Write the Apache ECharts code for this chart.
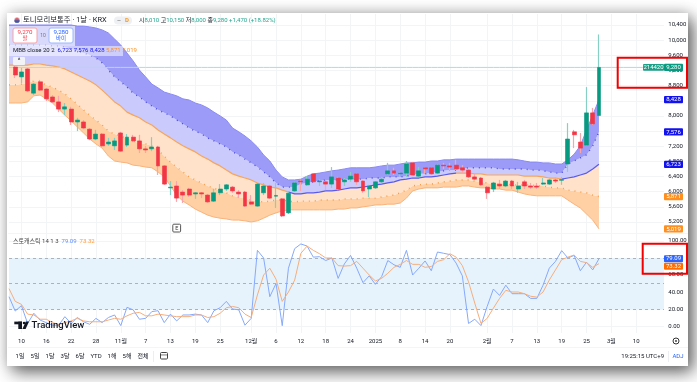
<!DOCTYPE html>
<html>
<head>
<meta charset="utf-8">
<title>토니모리보통주</title>
<script src="https://cdn.jsdelivr.net/npm/echarts@6/dist/echarts.min.js"></script>
<style>
html, body { margin: 0; padding: 0; background: #fff; overflow: hidden; }
#card { position: absolute; left: 7px; top: 13px; width: 681px; height: 353px; background: #fff; box-shadow: 5px 6px 16px rgba(0,0,0,.62), 0 -2px 12px rgba(0,0,0,.12); }
#main { position: absolute; left: 0; top: 0; width: 697px; height: 382px; filter: blur(0.4px); }
</style>
</head>
<body>
<div id="card"></div>
<div id="main"></div>
<script>
// time axis: bar index -> label
const barCount = 107
const xTickIndex = [2, 6, 10, 14, 18, 22, 26, 30, 34, 39, 43, 47, 51, 55, 59, 63, 67, 71, 77, 81, 85, 89, 93, 97, 101]
const xTickLabels = ['10', '16', '22', '28', '11월', '7', '13', '19', '25', '12월', '6', '12', '18', '24', '2025', '8', '14', '20', '2월', '7', '13', '19', '25', '3월', '10']
const priceTicks = [5200, 5600, 6000, 6400, 6800, 7200, 7600, 8000, 8400, 8800, 9200, 9600, 10000, 10400]
const stochTicks = [0, 20, 40, 60, 80, 100]

// candles start at bar index 1
const opens = [9290, 9030, 9240, 8600, 8900, 8710, 8500, 8370, 8180, 8180, 7840, 7840, 7650, 7390, 7520, 7260, 7210, 7550, 7230, 7440, 7340, 7130, 7130, 7180, 6680, 6100, 6150, 5990, 6070, 5940, 5970, 5910, 5750, 5970, 6070, 6120, 5990, 5990, 5730, 5620, 5970, 6150, 5880, 5810, 5440, 6020, 6280, 6180, 6470, 6260, 6260, 6200, 6360, 6260, 6330, 6470, 6280, 6070, 6100, 6260, 6470, 6550, 6470, 6490, 6760, 6410, 6630, 6630, 6490, 6700, 6680, 6700, 6630, 6570, 6390, 6360, 6120, 6070, 6200, 6150, 6280, 6070, 6260, 6150, 6150, 6200, 6200, 6310, 6300, 6730, 7580, 7310, 7230, 8080, 8010]
const closes = [9080, 9160, 8660, 8840, 8680, 8450, 8370, 8180, 8240, 7840, 7890, 7680, 7390, 7520, 7210, 7310, 7340, 7070, 7440, 7340, 7130, 7100, 7180, 6680, 6200, 6120, 5830, 5910, 5910, 5970, 5940, 5730, 5970, 6070, 6180, 6020, 5940, 5620, 5670, 6200, 6150, 5830, 5900, 5360, 5960, 6230, 6260, 6330, 6260, 6280, 6200, 6390, 6070, 6310, 6410, 6260, 6020, 6150, 6260, 6330, 6550, 6490, 6490, 6730, 6440, 6550, 6600, 6470, 6700, 6680, 6650, 6600, 6570, 6390, 6330, 6180, 5970, 6230, 6150, 6280, 6150, 6150, 6150, 6120, 6120, 6230, 6310, 6280, 6320, 7390, 7500, 7150, 8080, 7790, 9280]
const lows = [9000, 8870, 8630, 8550, 8660, 8390, 8340, 8100, 8020, 7760, 7600, 7650, 7360, 7360, 7180, 7210, 7100, 7050, 7180, 7310, 7020, 7020, 7070, 6440, 6180, 5910, 5730, 5700, 5860, 5810, 5830, 5700, 5730, 5910, 6020, 5970, 5830, 5600, 5650, 5600, 5910, 5810, 5570, 5330, 5410, 5990, 6020, 6150, 6230, 6150, 6040, 6100, 6040, 6150, 6260, 6180, 5970, 5860, 6070, 6230, 6440, 6440, 6390, 6390, 6410, 6390, 6490, 6440, 6470, 6600, 6550, 6570, 6490, 6360, 6310, 6150, 5810, 5990, 6070, 6120, 6070, 5970, 6070, 6070, 6070, 6180, 6180, 6230, 6180, 6520, 7150, 7020, 7210, 7760, 8000]
const highs = [9320, 9270, 9270, 8870, 8950, 8740, 8550, 8530, 8340, 8240, 7950, 7890, 7680, 7630, 7550, 7420, 7420, 7580, 7520, 7500, 7500, 7210, 7440, 7210, 6700, 6280, 6280, 6040, 6100, 5990, 5990, 5940, 6070, 6200, 6200, 6150, 6040, 6020, 5910, 6230, 6230, 6180, 6230, 5830, 5990, 6260, 6310, 6410, 6490, 6330, 6310, 6650, 6390, 6360, 6520, 6490, 6310, 6180, 6280, 6390, 6760, 6630, 6520, 6810, 6780, 6650, 6650, 6650, 6730, 6760, 6760, 6840, 6700, 6600, 6490, 6390, 6150, 6260, 6310, 6310, 6310, 6260, 6310, 6230, 6230, 6360, 6330, 6390, 6390, 7810, 7630, 7550, 8760, 8210, 10150]

// bollinger bands start at bar index 0
const upper2 = [10400, 10400, 10400, 10400, 10400, 10400, 10400, 10400, 10400, 10400, 10400, 10370, 10370, 10350, 10320, 10270, 10190, 10030, 9870, 9660, 9450, 9210, 9030, 8840, 8740, 8630, 8580, 8530, 8450, 8420, 8340, 8290, 8210, 8100, 8000, 7890, 7680, 7580, 7470, 7340, 7180, 6970, 6810, 6570, 6390, 6310, 6310, 6330, 6410, 6470, 6490, 6520, 6550, 6570, 6600, 6630, 6630, 6630, 6630, 6650, 6680, 6700, 6700, 6730, 6760, 6760, 6780, 6780, 6810, 6810, 6840, 6840, 6860, 6860, 6860, 6860, 6860, 6860, 6860, 6860, 6860, 6860, 6840, 6810, 6780, 6780, 6760, 6760, 6730, 6730, 6840, 6990, 7210, 7630, 8020, 8428]
const upper1 = [9870, 9870, 9870, 9870, 9870, 9870, 9870, 9850, 9850, 9820, 9770, 9710, 9660, 9610, 9530, 9400, 9210, 9030, 8900, 8760, 8600, 8500, 8370, 8260, 8160, 8080, 8000, 7890, 7790, 7680, 7600, 7520, 7420, 7340, 7260, 7180, 7050, 6970, 6860, 6760, 6650, 6520, 6390, 6230, 6120, 6120, 6120, 6200, 6230, 6260, 6280, 6310, 6310, 6310, 6330, 6330, 6330, 6330, 6360, 6360, 6360, 6390, 6390, 6390, 6410, 6440, 6470, 6470, 6490, 6520, 6550, 6570, 6570, 6600, 6630, 6630, 6630, 6630, 6630, 6600, 6600, 6600, 6600, 6600, 6570, 6570, 6550, 6520, 6490, 6490, 6730, 6810, 6890, 6970, 7210, 7576]
const basis = [9340, 9340, 9340, 9340, 9370, 9370, 9340, 9320, 9290, 9240, 9160, 9080, 9000, 8920, 8820, 8680, 8530, 8370, 8260, 8100, 8020, 7950, 7840, 7760, 7630, 7520, 7420, 7310, 7210, 7130, 7050, 6940, 6860, 6760, 6680, 6570, 6470, 6410, 6360, 6310, 6230, 6180, 6120, 6100, 6040, 5990, 5940, 5940, 5970, 5970, 5990, 6020, 6020, 6040, 6070, 6100, 6100, 6120, 6150, 6180, 6200, 6230, 6260, 6310, 6330, 6360, 6360, 6390, 6390, 6410, 6440, 6470, 6490, 6490, 6490, 6470, 6470, 6440, 6440, 6440, 6440, 6440, 6440, 6410, 6410, 6410, 6390, 6360, 6360, 6330, 6360, 6390, 6440, 6490, 6600, 6723]
const lower1 = [8820, 8820, 8840, 8870, 8920, 8900, 8820, 8760, 8680, 8580, 8450, 8310, 8160, 8020, 7890, 7760, 7600, 7520, 7470, 7390, 7340, 7280, 7260, 7210, 7100, 6940, 6780, 6650, 6520, 6390, 6310, 6230, 6150, 6100, 6020, 5970, 5890, 5860, 5810, 5780, 5750, 5730, 5750, 5780, 5780, 5750, 5730, 5750, 5750, 5750, 5780, 5780, 5780, 5780, 5810, 5810, 5810, 5830, 5830, 5830, 5860, 5890, 5910, 5970, 6040, 6150, 6180, 6200, 6200, 6230, 6260, 6280, 6310, 6310, 6310, 6280, 6260, 6230, 6200, 6200, 6200, 6180, 6180, 6180, 6180, 6150, 6150, 6120, 6100, 6100, 6040, 6020, 5990, 5970, 5910, 5871]
const lower2 = [8340, 8340, 8340, 8370, 8530, 8550, 8450, 8340, 8180, 8020, 7870, 7710, 7550, 7390, 7260, 7150, 6940, 6810, 6780, 6760, 6700, 6680, 6650, 6630, 6520, 6390, 6150, 5910, 5750, 5650, 5540, 5460, 5380, 5330, 5300, 5280, 5250, 5250, 5230, 5200, 5230, 5300, 5380, 5440, 5490, 5520, 5520, 5520, 5520, 5520, 5520, 5520, 5520, 5540, 5540, 5570, 5570, 5600, 5620, 5650, 5650, 5670, 5670, 5700, 5830, 6020, 6070, 6100, 6100, 6100, 6120, 6120, 6120, 6150, 6150, 6120, 6100, 6100, 6070, 6070, 6040, 6040, 5990, 5940, 5910, 5890, 5890, 5890, 5890, 5890, 5780, 5670, 5570, 5410, 5250, 5019]
// stretches where the basis line turns blue (rising), orange elsewhere
const basisRising = [[45, 72], [89, 95]]

// stochastic, bar index 0 onward
const stochK = [34.5, 17.6, 24, 3, 15, 7, 4, 1, 1, 11, 3, 10, 5, 2, 9, 4, 10, 13, 0.5, 22, 19, 8, 9, 17, 18, 4, 14, 6, 13, 13, 14, 13, 4, 18, 21.5, 29, 20, 19, 1, 9, 89, 80, 34.5, 50, 0.4, 68, 91, 96.5, 94, 81, 81.5, 77, 80, 56, 73, 83, 68, 51, 59, 49, 58, 77, 72, 69, 89, 60, 68, 76.5, 65, 87, 85.5, 84, 74, 59, 3, 8, 0.5, 23, 43.5, 36, 48, 38, 38, 38, 32.5, 32.5, 48, 68, 76, 88.6, 80, 83, 65, 75, 66, 79.09]
const stochD = [44, 29, 25.5, 14, 13, 8, 8, 4, 2, 4, 6, 9, 6, 5, 5, 5, 7, 9, 8, 12, 15, 16, 12, 12, 14, 13, 12, 11, 11, 11, 13, 13, 10, 11, 15, 21.5, 23, 21.5, 14, 10, 36.5, 60, 68, 55, 29, 40, 54, 85.5, 94, 89, 85, 80, 80, 71, 70.5, 71, 76, 68, 60, 53, 56, 62, 69, 72.5, 77, 72.5, 72.5, 69, 70, 76, 78, 85, 81, 71, 52, 27, 3, 9, 21, 32.5, 42, 40, 40, 38, 35, 34, 40, 54, 66, 78, 81, 83.5, 76, 74.5, 69, 73.32]

const upColor = '#089981'
const downColor = '#f23645'
const textColor = '#131722'
const blue = '#1212ee'
const orange = '#ff8f1f'
const fontFamily = 'Roboto, "Noto Sans CJK KR", sans-serif'
const plotLeft = 9
const barStep = 6.21
const axisFont = 6

const categories = []
for (let i = 0; i < barCount; i++) {
  const t = xTickIndex.indexOf(i)
  categories.push(t >= 0 ? xTickLabels[t] : '')
}
const isTick = index => xTickIndex.indexOf(index) >= 0

// first slot of the axis has bands only, no candle
const emptyBar = ['-', '-', '-', '-']
const wickData = [emptyBar].concat(opens.map((o, i) => [o, closes[i], lows[i], highs[i]]))
const bodyData = [emptyBar].concat(opens.map((o, i) => [o, closes[i], Math.min(o, closes[i]), Math.max(o, closes[i])]))

function inRising(i) {
  return basisRising.some(r => i >= r[0] && i <= r[1])
}
const basisBlue = basis.map((v, i) => (inRising(i) ? v : null))
const basisOrange = basis.map((v, i) => (inRising(i) && inRising(i - 1) && inRising(i + 1) ? null : v))
// orange stops at the junction points only
basisRising.forEach(r => {
  basisOrange[r[0]] = basis[r[0]]
  basisOrange[r[1]] = r[1] === 95 ? null : basis[r[1]]
})

function diff(a, b) {
  return a.map((v, i) => v - b[i])
}
function band(name, data, color) {
  return {
    name: name, type: 'line', stack: 'mbb', data: data, symbol: 'none', silent: true, z: 1,
    lineStyle: { width: 0 }, areaStyle: color ? { color: color, opacity: 1 } : { opacity: 0 }
  }
}
function bandLine(name, data, color, width, type) {
  return {
    name: name, type: 'line', data: data, symbol: 'none', silent: true, z: 2,
    lineStyle: { color: color, width: width, type: type || 'solid' }
  }
}
function txt(x, y, text, color, size, extra, z) {
  return {
    type: 'text', z: z || 60, x: x, y: y, silent: true,
    style: Object.assign({ text: text, fill: color || textColor, fontSize: size || axisFont, fontFamily: fontFamily, textVerticalAlign: 'middle' }, extra || {})
  }
}
function box(x, y, w, h, fill, stroke, r, z) {
  return {
    type: 'rect', z: z || 55, silent: true, shape: { x: x, y: y, width: w, height: h, r: r || 0 },
    style: { fill: fill || 'transparent', stroke: stroke || null, lineWidth: 1 }
  }
}
function tag(yc, w, fill, text) {
  return [box(664, yc - 3.6, w, 7.2, fill, null, 1, 70), txt(673.5, yc + 0.2, text, '#fff', axisFont, { textAlign: 'center' }, 71)]
}
function redBox(x, y, w, h) {
  return { type: 'rect', z: 80, silent: true, shape: { x: x, y: y, width: w, height: h }, style: { fill: 'transparent', stroke: '#f00000', lineWidth: 2 } }
}

const plotWidth = (barCount - 1) * barStep
const option = {
  animation: false,
  backgroundColor: 'transparent',
  grid: [
    { left: plotLeft, width: plotWidth, top: 14, height: 219 },
    { left: plotLeft, width: plotWidth, top: 234, height: 99 }
  ],
  xAxis: [0, 1].map(g => ({
    type: 'category', gridIndex: g, data: categories, boundaryGap: false,
    axisLine: { show: false },
    axisTick: { show: false },
    splitLine: { show: true, interval: isTick, lineStyle: { color: '#f3f4f6', width: 1 } },
    axisLabel: {
      show: g === 1, interval: isTick, margin: 5, hideOverlap: false,
      color: textColor, fontSize: axisFont, fontFamily: fontFamily
    }
  })),
  yAxis: [
    {
      type: 'value', gridIndex: 0, position: 'right', min: 4909, max: 10690, scale: true,
      axisLine: { show: false },
      axisTick: { show: false, customValues: priceTicks },
      splitLine: { show: true, lineStyle: { color: '#f3f4f6', width: 1 } },
      axisLabel: {
        customValues: priceTicks, margin: 1, color: textColor, fontSize: axisFont, fontFamily: fontFamily,
        formatter: v => v.toLocaleString('en-US')
      }
    },
    {
      type: 'value', gridIndex: 1, position: 'right', min: -8.2, max: 108.2, scale: true,
      axisLine: { show: false },
      axisTick: { show: false, customValues: stochTicks },
      splitLine: { show: true, lineStyle: { color: '#f3f4f6', width: 1 } },
      axisLabel: {
        customValues: stochTicks, margin: 1, color: textColor, fontSize: axisFont, fontFamily: fontFamily,
        formatter: v => v.toFixed(2)
      }
    }
  ],
  series: [
    band('base', lower2, null),
    band('lowerOuter', diff(lower1, lower2), '#fed0a4'),
    band('lowerInner', diff(basis, lower1), '#ffe2c9'),
    band('upperInner', diff(upper1, basis), '#cacafd'),
    band('upperOuter', diff(upper2, upper1), '#9c9cf8'),
    bandLine('upper2', upper2, '#8a8af2', 1),
    bandLine('upper1', upper1, '#4a4ae6', 1.4, [1, 5]),
    bandLine('basisOrange', basisOrange, '#f5a55e', 1.2),
    bandLine('basisBlue', basisBlue, '#5a5ae8', 1.2),
    bandLine('lower1', lower1, '#f79a4a', 1.4, [1, 5]),
    bandLine('lower2', lower2, '#f9b27a', 1),
    {
      name: 'wick', type: 'candlestick', data: wickData, barWidth: 1, z: 3, silent: true,
      itemStyle: { color: '#86cfc2', color0: '#f8a5ac', borderColor: '#86cfc2', borderColor0: '#f8a5ac', borderWidth: 1.2 }
    },
    {
      name: 'body', type: 'candlestick', data: bodyData, barWidth: 4.4, z: 4, silent: true,
      itemStyle: { color: upColor, color0: downColor, borderColor: upColor, borderColor0: downColor, borderWidth: 0.6 }
    },
    {
      // last price line
      name: 'lastPrice', type: 'line', data: categories.map(() => closes[closes.length - 1]), symbol: 'none', silent: true, z: 2,
      lineStyle: { color: '#a5e2d6', width: 1 }
    },
    {
      name: '%K', type: 'line', xAxisIndex: 1, yAxisIndex: 1, data: stochK, symbol: 'none', silent: true, z: 3,
      lineStyle: { color: '#86a9fb', width: 1 },
      markArea: {
        silent: true, itemStyle: { color: '#e6f3fd' }, z: 0,
        data: [[{ yAxis: 80 }, { yAxis: 20 }]]
      },
      markLine: {
        silent: true, symbol: 'none', label: { show: false }, z: 1,
        lineStyle: { color: '#adb2b9', type: [3, 3], width: 1 },
        data: [{ yAxis: 80 }, { yAxis: 50 }, { yAxis: 20 }]
      }
    },
    {
      name: '%D', type: 'line', xAxisIndex: 1, yAxisIndex: 1, data: stochD, symbol: 'none', silent: true, z: 4,
      lineStyle: { color: '#f6ae7c', width: 1 }
    }
  ]
}

const chart = echarts.init(document.getElementById('main'), null, { renderer: 'canvas' })
chart.setOption(option)

const py = v => chart.convertToPixel({ yAxisIndex: 0 }, v)
const sy = v => chart.convertToPixel({ yAxisIndex: 1 }, v)
const lastK = stochK[stochK.length - 1]
const lastD = stochD[stochD.length - 1]
const lastClose = closes[closes.length - 1]

const elements = [
  // the plot stops where the price scale begins
  box(664, 14, 4, 320, '#fff', null, 0, 50),
  // separators
  box(8, 233, 680, 0.6, '#e9ebef'),
  box(8, 347, 680, 0.6, '#e9ebef'),
  // translucent legend backdrop over the bands
  box(9, 26, 66, 20, 'rgba(255,255,255,.62)', null, 0, 40),
  box(9, 46, 114, 10, 'rgba(255,255,255,.5)', null, 0, 40),
  // header
  { type: 'circle', z: 60, silent: true, shape: { cx: 17, cy: 20.2, r: 2.6 }, style: { fill: '#e8505b', stroke: '#cfd3da', lineWidth: 0.6 } },
  { type: 'sector', z: 61, silent: true, shape: { cx: 17, cy: 20.2, r: 2.6, startAngle: 0, endAngle: Math.PI }, style: { fill: '#2f5fb0' } },
  txt(23, 20.3, '토니모리보통주 · 1날 · KRX', textColor, 7.4),
  box(114, 16.5, 18, 8, '#eef0f4', null, 4),
  txt(117, 20.5, '—', '#555', 5),
  txt(125, 20.5, 'D', '#f59a23', 6, { fontWeight: 'bold' }),
  txt(139, 20.5, '', textColor, 6, {
    text: '{l|시}{v|8,010} {l|고}{v|10,150} {l|저}{v|8,000} {l|종}{v|9,280} {v|+1,470 (+18.82%)}',
    rich: {
      l: { fill: textColor, fontSize: 6, fontFamily: fontFamily },
      v: { fill: '#22a68f', fontSize: 6, fontFamily: fontFamily }
    }
  }),
  // bid / ask boxes
  box(13, 28, 24, 15, '#fff', '#f4a4ac', 2),
  txt(25, 32.5, '9,270', downColor, 6.2, { textAlign: 'center' }),
  txt(25, 39, '팔', downColor, 5.5, { textAlign: 'center' }),
  txt(43, 35.5, '10', '#777', 5, { textAlign: 'center' }),
  box(49, 28, 24, 15, '#fff', '#9db8fb', 2),
  txt(61, 32.5, '9,280', '#2962ff', 6.2, { textAlign: 'center' }),
  txt(61, 39, '바이', '#2962ff', 5.5, { textAlign: 'center' }),
  // indicator legends
  txt(13, 50.5, '', textColor, 6, {
    text: '{l|MBB close 20 2}  {b|6,723} {b|7,576} {b|8,428} {o|5,871} {o|5,019}',
    rich: {
      l: { fill: textColor, fontSize: 6, fontFamily: fontFamily },
      b: { fill: blue, fontSize: 6, fontFamily: fontFamily },
      o: { fill: orange, fontSize: 6, fontFamily: fontFamily }
    }
  }),
  box(13, 57, 12, 8, '#f2f3f7', null, 1),
  txt(19, 61.5, '^', textColor, 6.5, { textAlign: 'center' }),
  txt(13, 241, '', textColor, 6, {
    text: '{l|스토캐스틱 14 1 3}  {b|79.09}  {o|73.32}',
    rich: {
      l: { fill: '#444', fontSize: 6, fontFamily: fontFamily },
      b: { fill: '#5b8dff', fontSize: 6, fontFamily: fontFamily },
      o: { fill: '#ff9a3d', fontSize: 6, fontFamily: fontFamily }
    }
  }),
  // earnings marker
  box(172.8, 224.2, 7.8, 7.8, '#fff', '#555', 1),
  txt(176.7, 228.4, 'E', '#333', 5.5, { textAlign: 'center' }),
  // TradingView logo
  box(14.3, 321.6, 7.7, 2.7, '#131722'),
  box(18.3, 321.6, 3.7, 7.4, '#131722'),
  { type: 'circle', z: 55, silent: true, shape: { cx: 24.1, cy: 323, r: 1.35 }, style: { fill: '#131722' } },
  { type: 'polygon', z: 55, silent: true, shape: { points: [[29, 321.6], [25.6, 329], [22.4, 329], [25.8, 321.6]] }, style: { fill: '#131722' } },
  txt(31.5, 326, 'TradingView', '#131722', 9.5, { fontWeight: 500 }),
  // gear
  { type: 'circle', z: 55, silent: true, shape: { cx: 676, cy: 341, r: 3 }, style: { fill: 'none', stroke: '#333', lineWidth: 1 } },
  { type: 'circle', z: 55, silent: true, shape: { cx: 676, cy: 341, r: 0.9 }, style: { fill: '#333' } },
  // bottom bar
  box(153.2, 351, 0.6, 11, '#e0e3eb'),
  box(160.5, 352.5, 7, 6.5, 'transparent', '#444', 1),
  box(160.5, 354.6, 7, 0.7, '#444'),
  txt(664, 356.7, '19:25:15 UTC+9', textColor, 6, { textAlign: 'right' }),
  box(668, 351, 0.6, 11, '#e0e3eb'),
  txt(678, 356.7, 'ADJ', '#2962ff', 6, { textAlign: 'center' }),
  // last value tags
  box(643, py(lastClose) - 3.4, 21, 6.8, '#1c9f87', null, 1, 70),
  txt(653.5, py(lastClose) + 0.2, '214420', '#fff', 6, { textAlign: 'center' }, 71),
  ...tag(py(lastClose), 19, '#089981', '9,280'),
  ...tag(py(upper2[upper2.length - 1]), 19, blue, '8,428'),
  ...tag(py(upper1[upper1.length - 1]), 19, blue, '7,576'),
  ...tag(py(basis[basis.length - 1]), 19, blue, '6,723'),
  ...tag(py(lower1[lower1.length - 1]), 19, orange, '5,871'),
  ...tag(py(lower2[lower2.length - 1]), 19, orange, '5,019'),
  ...tag(sy(lastK), 19, '#2962ff', '79.09'),
  ...tag(sy(lastD) + 2.6, 19, '#ff6d00', '73.32'),
  // red annotation boxes
  redBox(617.7, 57.7, 69.3, 30),
  redBox(642.7, 243.7, 44.3, 30)
]
const rangeLabels = [[20, '1일'], [35, '5일'], [50, '1달'], [65, '3달'], [80, '6달'], [96, 'YTD'], [112, '1해'], [127, '5해'], [143, '전체']]
rangeLabels.forEach(r => elements.push(txt(r[0], 356.7, r[1], textColor, 6, { textAlign: 'center' })))
chart.setOption({ graphic: elements })
</script>
</body>
</html>
